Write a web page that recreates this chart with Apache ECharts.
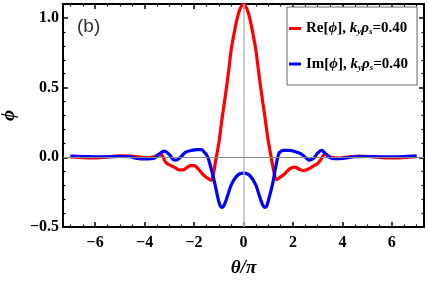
<!DOCTYPE html>
<html>
<head>
<meta charset="utf-8">
<script src="https://cdn.jsdelivr.net/npm/echarts@6/dist/echarts.min.js"></script>
<style>html,body{margin:0;padding:0;background:#fff;}#c{width:428px;height:281px;}</style>
</head>
<body>
<div id="c"></div>
<script>
// theta/pi positions and values for Re[phi]
var thetaRe = [-7.0,-6.6,-6.2,-5.8,-5.4,-5.0,-4.6,-4.2,-3.9,-3.6,-3.4,-3.3,-3.15,-3.0,-2.8,-2.6,-2.45,-2.3,-2.15,-2.0,-1.85,-1.65,-1.45,-1.3,-1.22,-1.15,-1.1,-1.0,-0.85,-0.75,-0.6,-0.5,-0.4,-0.27,-0.15,0,0.15,0.27,0.4,0.5,0.6,0.75,0.85,1.0,1.1,1.17,1.25,1.33,1.5,1.66,1.85,2.06,2.25,2.4,2.55,2.67,2.85,3.0,3.15,3.28,3.4,3.55,3.9,4.3,4.7,5.1,5.5,5.9,6.3,6.7,7.0];
var reVals = [0.003,0.0,-0.004,-0.002,0.004,0.01,0.008,0.002,-0.004,0.005,0.018,0.015,-0.035,-0.055,-0.07,-0.09,-0.09,-0.075,-0.06,-0.06,-0.08,-0.12,-0.15,-0.165,-0.12,-0.05,0.0,0.1,0.3,0.42,0.62,0.77,0.87,0.985,1.06,1.1,1.06,0.985,0.87,0.77,0.63,0.43,0.31,0.12,0.02,-0.05,-0.12,-0.16,-0.14,-0.12,-0.085,-0.07,-0.085,-0.095,-0.09,-0.08,-0.06,-0.045,-0.01,0.022,0.015,0.0,-0.005,0.004,0.008,0.006,0.0,-0.005,-0.004,0.002,0.004];
// theta/pi positions and values for Im[phi]
var thetaIm = [-7.0,-6.5,-6.0,-5.5,-5.0,-4.6,-4.3,-4.0,-3.75,-3.6,-3.4,-3.2,-3.0,-2.85,-2.72,-2.55,-2.35,-2.1,-1.85,-1.7,-1.6,-1.5,-1.42,-1.31,-1.17,-1.05,-0.95,-0.88,-0.8,-0.65,-0.5,-0.3,-0.15,0,0.15,0.3,0.5,0.65,0.8,0.88,0.95,1.05,1.19,1.3,1.4,1.46,1.6,1.86,2.1,2.33,2.5,2.67,2.85,3.0,3.15,3.3,3.48,3.7,4.0,4.5,5.0,5.5,6.0,6.5,7.0];
var imVals = [0.008,0.006,0.004,0.004,0.006,0.004,-0.008,-0.012,-0.01,-0.005,0.025,0.045,0.02,-0.015,-0.02,0.0,0.035,0.05,0.055,0.055,0.04,0.02,-0.01,-0.08,-0.18,-0.28,-0.345,-0.36,-0.35,-0.28,-0.2,-0.14,-0.118,-0.113,-0.118,-0.14,-0.2,-0.28,-0.35,-0.36,-0.345,-0.28,-0.18,-0.07,0.01,0.035,0.05,0.05,0.04,0.025,0.0,-0.02,-0.005,0.03,0.05,0.03,0.0,-0.01,-0.008,0.004,0.006,0.004,0.004,0.006,0.01];
// tick positions
var xMajor = [-6,-4,-2,0,2,4,6];
var xMinor = [-7,-6.5,-5.5,-5,-4.5,-3.5,-3,-2.5,-1.5,-1,-0.5,0.5,1,1.5,2.5,3,3.5,4.5,5,5.5,6.5,7];
var yMajor = [-0.5,0,0.5,1.0];
var yMinor = [-0.4,-0.3,-0.2,-0.1,0.1,0.2,0.3,0.4,0.6,0.7,0.8,0.9,1.1];
var seriesNames = ['Re', 'Im'];

function pairs(xs, ys){ var o=[]; for(var i=0;i<xs.length;i++){o.push([xs[i],ys[i]]);} return o; }
function fmtNum(v, d){ var s = Math.abs(v).toFixed(d); return (v < -1e-9 ? '\u2212' : '') + s; }

var XMIN=-7.3, XMAX=7.3, YMIN=-0.5, YMAX=1.1;
var serif = '"Liberation Serif", "DejaVu Serif", serif';

function xAx(pos, ticks, len, major){
  return {
    type:'value', position:pos, min:XMIN, max:XMAX,
    axisLine:{show:major, onZero:false, lineStyle:{color:'#000', width:2}},
    axisTick:{show:true, inside:true, length:len, customValues:ticks, lineStyle:{color:'#000', width: major?1.5:1.2}},
    axisLabel:{show:false}, splitLine:{show:false}
  };
}
function yAx(pos, ticks, len, major){
  return {
    type:'value', position:pos, min:YMIN, max:YMAX,
    axisLine:{show:major, onZero:false, lineStyle:{color:'#000', width:2}},
    axisTick:{show:true, inside:true, length:len, customValues:ticks, lineStyle:{color:'#000', width: major?1.5:1.2}},
    axisLabel:{show:false}, splitLine:{show:false}
  };
}

var xMain = xAx('bottom', xMajor, 5, true);
xMain.axisLabel = {show:true, customValues:xMajor, margin:8, color:'#000', fontFamily:serif, fontWeight:'bold', fontSize:16,
  formatter:function(v){return fmtNum(v,0);}};
xMain.name = '\u03b8/\u03c0'; xMain.nameLocation='middle'; xMain.nameGap=32;
xMain.nameTextStyle = {fontFamily:serif, fontWeight:'bold', fontStyle:'italic', fontSize:19, color:'#000'};

var yMain = yAx('left', yMajor, 5, true);
yMain.axisLabel = {show:true, customValues:yMajor, margin:4, color:'#000', fontFamily:serif, fontWeight:'bold', fontSize:16,
  formatter:function(v){return fmtNum(v,1);}};
yMain.name = '\u03d5'; yMain.nameLocation='middle'; yMain.nameGap=43;
yMain.nameTextStyle = {fontFamily:serif, fontWeight:'bold', fontStyle:'italic', fontSize:19, color:'#000'};

var legendRich = {
  b:{fontFamily:serif, fontWeight:'bold', fontSize:15, color:'#000', lineHeight:16},
  i:{fontFamily:serif, fontWeight:'bold', fontStyle:'italic', fontSize:15, color:'#000', lineHeight:16},
  s:{fontFamily:serif, fontWeight:'bold', fontStyle:'italic', fontSize:9, color:'#000', lineHeight:16, verticalAlign:'bottom'}
};

var option = {
  animation:false,
  backgroundColor:'#fff',
  grid:{left:63, right:4, top:4, bottom:54, containLabel:false, outerBoundsMode:'none'},
  xAxis:[xMain, xAx('bottom', xMinor, 2.5, false), xAx('top', xMajor, 5, true), xAx('top', xMinor, 2.5, false)],
  yAxis:[yMain, yAx('left', yMinor, 2.5, false), yAx('right', yMajor, 5, true), yAx('right', yMinor, 2.5, false)],
  legend:{
    left:287, top:7, orient:'vertical', itemWidth:12, itemHeight:3, itemGap:20,
    padding:[14,9,13,2], borderColor:'#666', borderWidth:1, backgroundColor:'#fff',
    icon:'rect', data:seriesNames,
    formatter:function(n){
      return '{b|'+n+'[}{i|\u03d5}{b|], }{i|k}{s|y}{i|\u03c1}{s|s}{b|=0.40}';
    },
    textStyle:{rich:legendRich, padding:[0,0,0,0]}
  },
  graphic:[{type:'text', left:77, top:17, style:{text:'(b)', fontFamily:'"Liberation Sans", Arial, sans-serif', fontSize:19, fill:'#333'}}],
  series:[
    {type:'line', name:'ref', data:[], z:1, silent:true, symbol:'none',
      markLine:{silent:true, symbol:'none', label:{show:false}, animation:false,
        data:[{xAxis:0, lineStyle:{color:'#bbb', width:1.5, type:'solid'}}, {yAxis:0, lineStyle:{color:'#888', width:1, type:'solid'}}]}},
    {type:'line', name:'Re', data:pairs(thetaRe, reVals), showSymbol:false, symbol:'none', smooth:0.35, z:3,
      lineStyle:{color:'#ff0000', width:3.2}, itemStyle:{color:'#ff0000'}},
    {type:'line', name:'Im', data:pairs(thetaIm, imVals), showSymbol:false, symbol:'none', smooth:0.35, z:4,
      lineStyle:{color:'#0000ff', width:3.2}, itemStyle:{color:'#0000ff'}}
  ]
};
var chart = echarts.init(document.getElementById('c'), null, {renderer:'canvas'});
chart.setOption(option);
</script>
</body>
</html>
